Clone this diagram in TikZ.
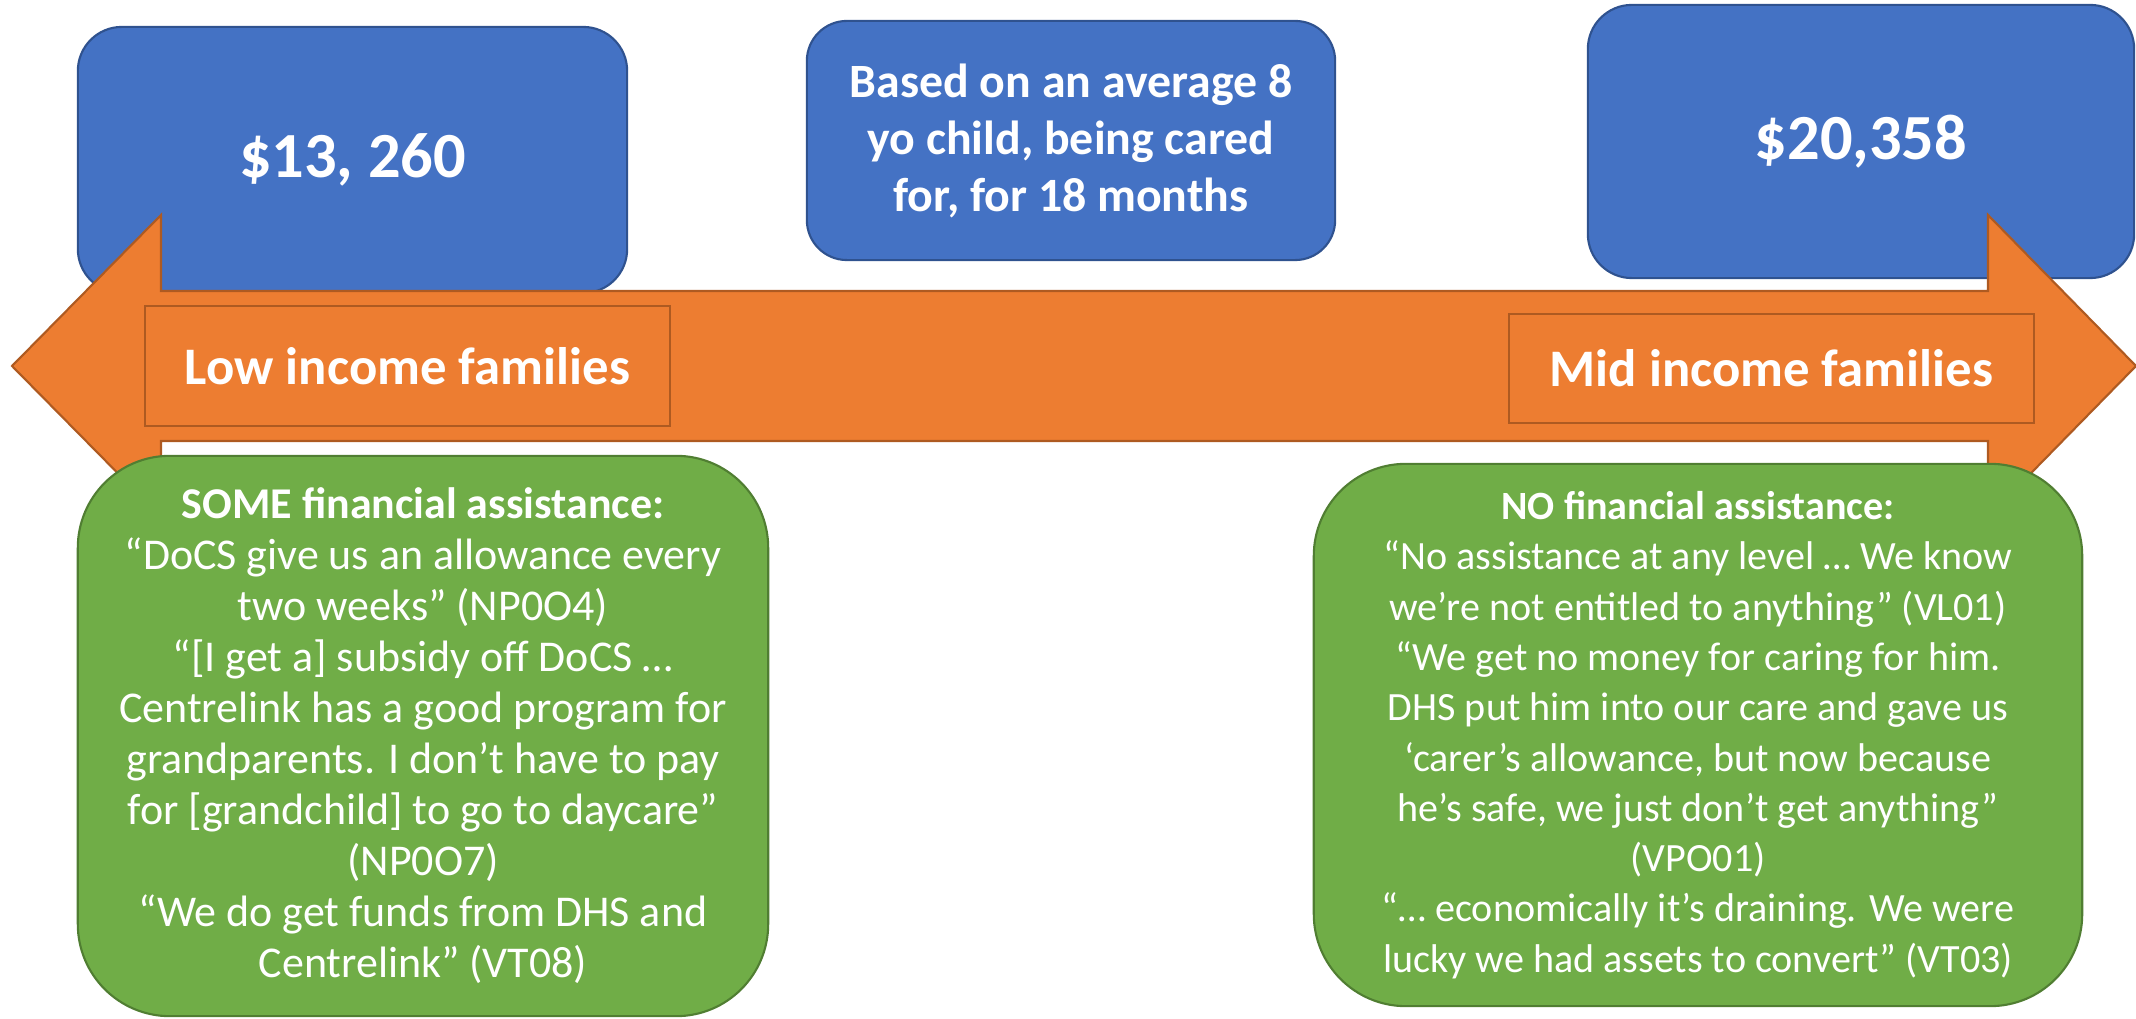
\documentclass[tikz,border=0pt]{standalone}
\usepackage{fontspec}
\setmainfont{Carlito}

\definecolor{costblue}{HTML}{4472C4}
\definecolor{costedge}{HTML}{2F528F}
\definecolor{bandorange}{HTML}{ED7D31}
\definecolor{bandedge}{HTML}{AE5A21}
\definecolor{quotegreen}{HTML}{70AD47}
\definecolor{quoteedge}{HTML}{507E32}

\begin{document}
\begin{tikzpicture}[%
    x=0.01cm,
    y=-0.01cm,
    line width=0.6pt,
    costbox/.style={draw=costedge, fill=costblue, rounded corners=0.44cm,
      text=white, align=center, font=\bfseries\fontsize{18.3}{21}\selectfont},
    notebox/.style={costbox, rounded corners=0.40cm,
      font=\bfseries\fontsize{13.6}{16.2}\selectfont},
    incomebox/.style={draw=bandedge, fill=bandorange, text=white,
      minimum width=5.25cm, font=\bfseries\fontsize{15}{18}\selectfont},
    quotebox/.style={draw=quoteedge, fill=quotegreen, rounded corners=0.92cm,
      text=white, align=center, font=\fontsize{11.4}{14.3}\selectfont}
  ]

  \useasboundingbox (0,0) rectangle (2136,1019);

  % costs behind the band
  \node[costbox, minimum width=5.49cm, minimum height=2.66cm] (low cost) at (352.5,160) {\$13, 260};
  \node[notebox, minimum width=5.28cm, minimum height=2.39cm] (basis) at (1071,140.5)
    {Based on an average 8\\yo child, being cared\\for, for 18 months};
  \node[costbox, minimum width=5.46cm, minimum height=2.73cm] (mid cost) at (1861,141.5) {\$20,358};

  % the income band
  \draw[draw=bandedge, fill=bandorange, line join=miter]
    (12,366) -- (161,215) -- (161,291) -- (1988,291) -- (1988,215) -- (2136,366)
    -- (1988,517) -- (1988,441) -- (161,441) -- (161,517) -- cycle;

  \node[incomebox, minimum height=1.20cm] (low) at (407.5,366) {Low income families};
  \node[incomebox, minimum height=1.09cm] (mid) at (1771.5,368.5) {Mid income families};

  % quotes
  \node[quotebox, minimum width=6.90cm, minimum height=5.60cm,
        font=\fontsize{12.5}{14.5}\selectfont] (some help) at (423,736)
    {\textbf{SOME financial assistance:}\\
     “DoCS give us an allowance every\\
     two weeks” (NP0O4)\\
     “[I get a] subsidy off DoCS …\\
     Centrelink has a good program for\\
     grandparents. I don’t have to pay\\
     for [grandchild] to go to daycare”\\
     (NP0O7)\\
     “We do get funds from DHS and\\
     Centrelink” (VT08)};
  \node[quotebox, minimum width=7.68cm, minimum height=5.42cm] (no help) at (1698,735)
    {\textbf{NO financial assistance:}\\
     “No assistance at any level … We know\\
     we’re not entitled to anything” (VL01)\\
     “We get no money for caring for him.\\
     DHS put him into our care and gave us\\
     ‘carer’s allowance, but now because\\
     he’s safe, we just don’t get anything”\\
     (VPO01)\\
     “… economically it’s draining. We were\\
     lucky we had assets to convert” (VT03)};
\end{tikzpicture}
\end{document}
